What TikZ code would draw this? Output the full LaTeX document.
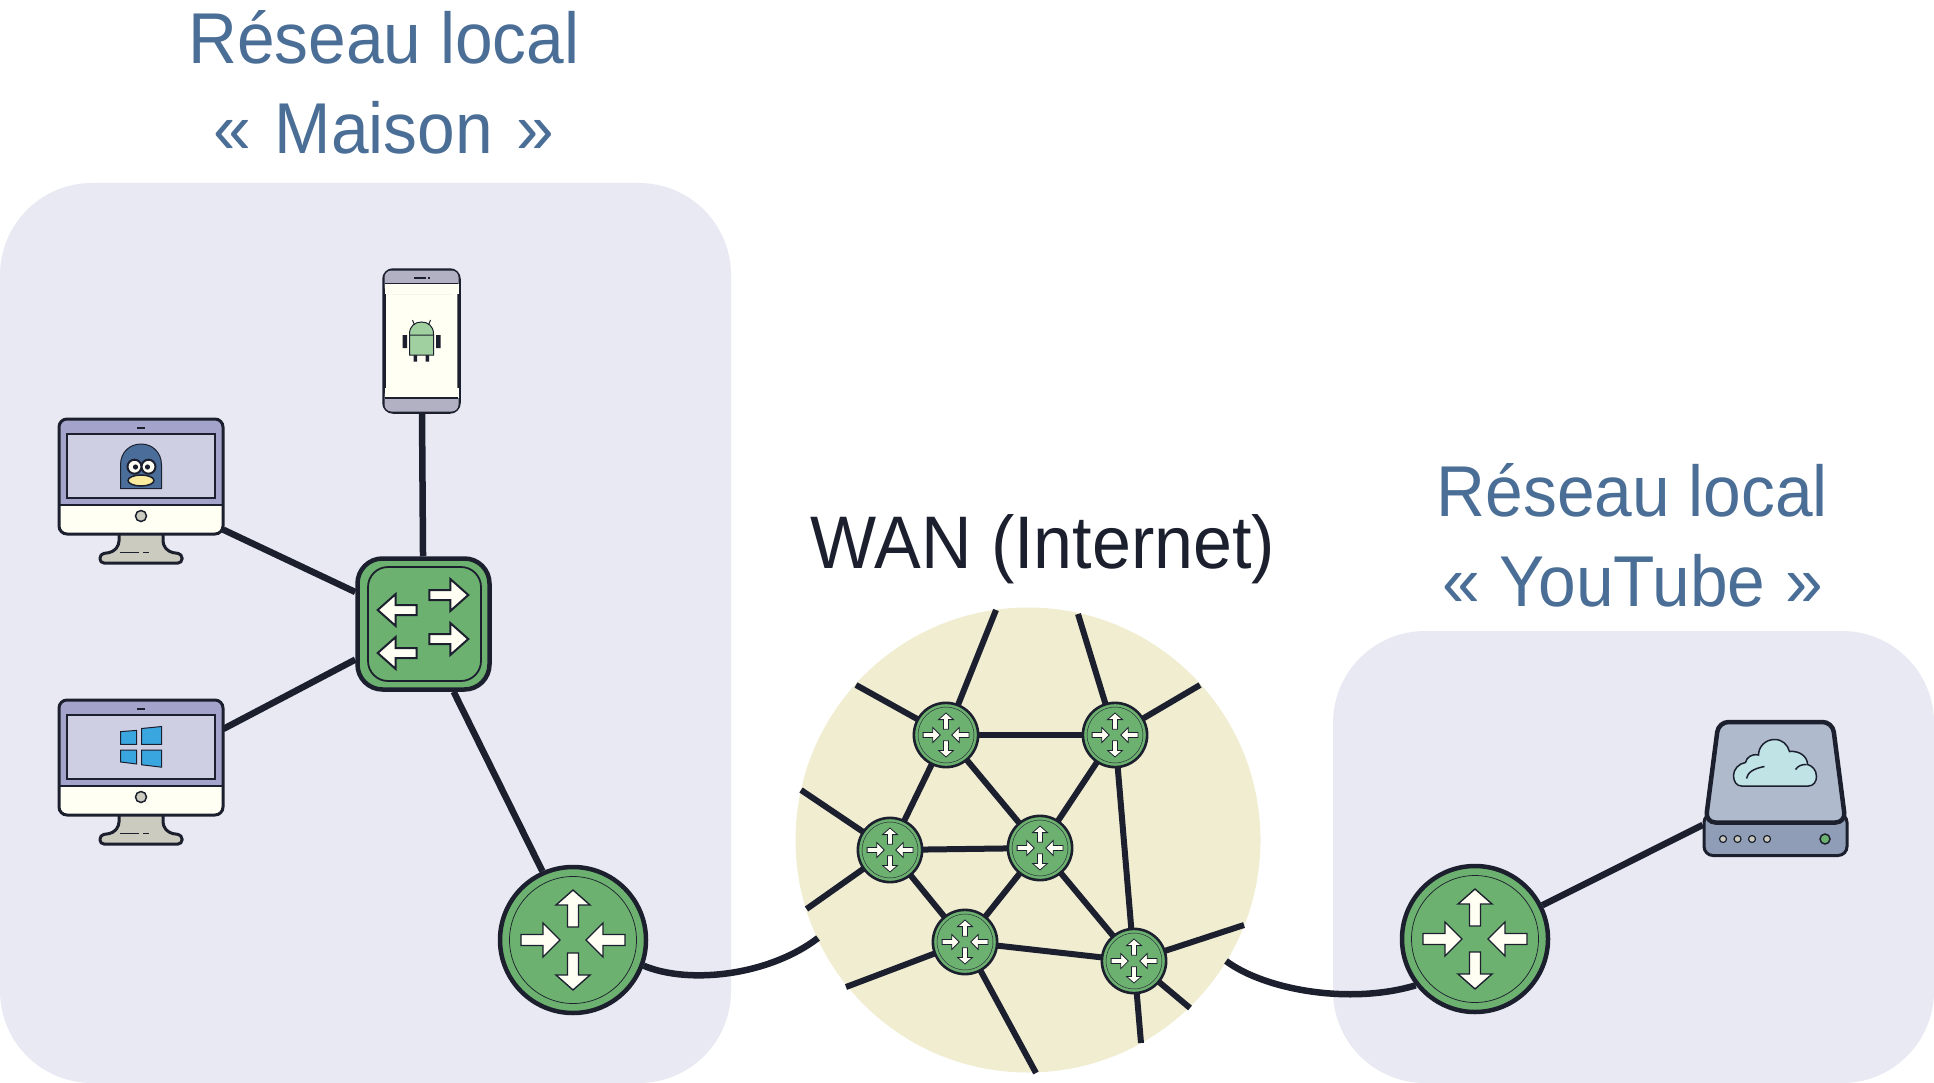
\documentclass[tikz,border=0pt]{standalone}
\usepackage{fontspec}
\setmainfont{Liberation Sans}[FakeStretch=0.94]
\definecolor{ink}{HTML}{1C202E}
\definecolor{groupbg}{HTML}{E8E9F2}
\definecolor{wanbg}{HTML}{F0EDD1}
\definecolor{titleblue}{HTML}{4A6E96}
\definecolor{netgreen}{HTML}{6DB170}
\definecolor{ivory}{HTML}{FFFFF3}
\definecolor{framecol}{HTML}{A4A3CB}
\definecolor{screencol}{HTML}{CFCFE3}
\definecolor{standcol}{HTML}{CBCBBF}
\definecolor{phonecol}{HTML}{B2B1C3}
\definecolor{servertop}{HTML}{AFBACC}
\definecolor{serverbase}{HTML}{8F9EB6}
\definecolor{cloudcol}{HTML}{C0E3E6}
\definecolor{tuxcol}{HTML}{4A6E99}
\definecolor{beakcol}{HTML}{FBEB9E}
\definecolor{wincol}{HTML}{3AA6E0}
\definecolor{droidcol}{HTML}{A0D0A0}
\newcommand{\arrowout}{(0,-50) -- (17,-35) -- (5.5,-35) -- (5.5,-13) -- (-5.5,-13) -- (-5.5,-35) -- (-17,-35) -- cycle}
\newcommand{\arrowin}{(0,-13) -- (17,-30) -- (5.5,-30) -- (5.5,-52) -- (-5.5,-52) -- (-5.5,-30) -- (-17,-30) -- cycle}
\newcommand{\arrowright}{(39,0) -- (21,-16) -- (21,-5) -- (0,-5) -- (0,5) -- (21,5) -- (21,16) -- cycle}
\tikzset{
    link/.style={draw=ink, line width=6.5pt},
    wanlink/.style={draw=ink, line width=6pt},
    grouptitle/.style={text=titleblue, align=center, font=\fontsize{72}{90}\selectfont},
    arrowbox/.style={draw=ink, fill=ivory},
    router/.pic={
        \node[circle, draw=ink, fill=netgreen, minimum size=146pt, inner sep=0pt, transform shape] (-box) {};
        \draw[draw=ink, line width=.4\pgflinewidth] (0,0) circle (63.5);
        \draw[arrowbox, line width=.55\pgflinewidth] \arrowout;
        \draw[arrowbox, line width=.55\pgflinewidth, rotate=180] \arrowout;
        \draw[arrowbox, line width=.55\pgflinewidth, rotate=90] \arrowin;
        \draw[arrowbox, line width=.55\pgflinewidth, rotate=-90] \arrowin;
    },
    monitor/.pic={
        \node[minimum width=164pt, minimum height=144pt, inner sep=0pt] (-box) {};
        \draw[ink, line width=3pt, fill=standcol, rounded corners=4pt] (-22,40) -- (-22,54) -- (-28,61) -- (-41,63) -- (-41,72) -- (41,72) -- (41,63) -- (28,61) -- (22,54) -- (22,40) -- cycle;
        \draw[ink, line width=1.5pt] (-21,61.5) -- (-2,61.5) (2.3,61.5) -- (8,61.5);
        \fill[ivory, rounded corners=8pt] (-82,-72) rectangle (82,43);
        \fill[framecol, rounded corners=8pt] (-82,14) -- (-82,-72) -- (82,-72) -- (82,14) -- cycle;
        \fill[framecol] (-82,5) rectangle (82,14);
        \draw[ink, line width=1.8pt, fill=screencol] (-74,-57) rectangle (74,7);
        \draw[ink, line width=1.8pt] (-82,14) -- (82,14);
        \draw[ink, line width=1.8pt] (-4,-63) -- (4,-63);
        \draw[ink, line width=1.5pt, fill=standcol] (0,25) circle (5.5);
        \draw[ink, line width=3pt, rounded corners=8pt] (-82,-72) rectangle (82,43);
    },
}
\begin{document}
\begin{tikzpicture}[x=1pt, y=-1pt]
    \useasboundingbox (0,0) rectangle (1934,1083);
    % areas
    \fill[groupbg, rounded corners=92pt] (0,183) rectangle (731,1083);
    \fill[groupbg, rounded corners=92pt] (1333,631) rectangle (1934,1083);
    \node[circle, fill=wanbg, minimum size=465pt, inner sep=0pt] (wan) at (1028,840) {};
    % titles
    \node[grouptitle] (titlehome) at (384,82.5) {Réseau local\\«\hspace{5pt} Maison \hspace{5pt}»};
    \node[grouptitle] (titleyoutube) at (1632.5,535.5) {Réseau local\\«\hspace{1pt} YouTube \hspace{1pt}»};
    \node[text=ink, font=\fontsize{74.5}{90}\selectfont, anchor=base] (titlewan) at (1043,568.5) {WAN (Internet)};
    % machines
    \pic (pclinux) at (141,491) {monitor};
    \pic (pcwindows) at (141,772) {monitor};
    % tux
    \draw[ink, line width=1pt, fill=tuxcol] (120.5,488.5) -- (120.5,465) .. controls (120.5,452) and (130,444) .. (141,444) .. controls (152,444) and (161.5,452) .. (161.5,465) -- (161.5,488.5) -- cycle;
    \draw[ink, line width=2pt, fill=ivory] (134.5,466.7) circle (7) (148.5,466.7) circle (7);
    \fill[ink] (135.5,467) circle (2.6) (147.5,467) circle (2.6);
    \draw[ink, line width=1.5pt, fill=beakcol] (141,480.5) ellipse (13 and 5.5);
    % windows
    \fill[wincol] (120.7,731.6) -- (136.7,730.4) -- (136.7,744.3) -- (120.7,744.3) -- cycle;
    \fill[wincol] (141.7,728.5) -- (161.7,726.5) -- (161.7,744.3) -- (141.7,744.3) -- cycle;
    \fill[wincol] (120.7,750) -- (136.7,750) -- (136.7,764) -- (120.7,762) -- cycle;
    \fill[wincol] (141.7,750) -- (161.7,750) -- (161.7,767.2) -- (141.7,764.8) -- cycle;
    \draw[ink, line width=1pt] (120.7,731.6) -- (136.7,730.4) -- (136.7,744.3) -- (120.7,744.3) -- cycle;
    \draw[ink, line width=1pt] (141.7,728.5) -- (161.7,726.5) -- (161.7,744.3) -- (141.7,744.3) -- cycle;
    \draw[ink, line width=1pt] (120.7,750) -- (136.7,750) -- (136.7,764) -- (120.7,762) -- cycle;
    \draw[ink, line width=1pt] (141.7,750) -- (161.7,750) -- (161.7,767.2) -- (141.7,764.8) -- cycle;
    % phone
    \node[draw=ink, line width=3.5pt, fill=ivory, rounded corners=9pt, minimum width=75pt, minimum height=142pt, inner sep=0pt] (phone) at (421.5,341) {};
    \fill[phonecol, rounded corners=7pt] (384.5,270.5) -- (458.5,270.5) -- (458.5,294) -- (384.5,294) -- cycle;
    \fill[ivory] (384.5,283.5) rectangle (458.5,294);
    \fill[phonecol, rounded corners=7pt] (384.5,388) -- (458.5,388) -- (458.5,411.5) -- (384.5,411.5) -- cycle;
    \fill[ivory] (384.5,388) rectangle (458.5,398);
    \draw[ink, line width=1.8pt] (385,283.5) -- (458,283.5) (385,398) -- (458,398);
    \draw[ink, line width=1.8pt] (414,277.7) -- (426,277.7) (428,277.7) -- (430,277.7);
    % android
    \fill[ink] (402.5,335) rectangle (407,348) (436,335) rectangle (440.5,348);
    \fill[ink] (413.5,354) rectangle (417,361.5) (425.5,354) rectangle (429,361.5);
    \draw[ink, line width=1pt, fill=droidcol] (409.5,334) .. controls (409.5,326) and (415,322) .. (421.5,322) .. controls (428,322) and (433.5,326) .. (433.5,334) -- (433.5,355) -- (409.5,355) -- cycle;
    \draw[ink, line width=1pt] (409.5,335) -- (433.5,335) (414.5,325) -- (412.5,320) (428.5,325) -- (430.5,320);
    % server
    \node[minimum width=145pt, minimum height=137pt, inner sep=0pt] (server) at (1775.5,788.5) {};
    \begin{scope}[shift={(server.center)}]
        \draw[ink, line width=3pt, fill=serverbase, rounded corners=9pt] (-71.5,25) rectangle (71.5,67);
        \draw[ink, line width=4.5pt, fill=servertop, rounded corners=10pt] (-57,-66.5) -- (57,-66.5) -- (70,34) -- (-70,34) -- cycle;
        \draw[ink, line width=1.5pt, fill=cloudcol] (-34,-2.5) -- (33,-2.5) .. controls (38,-2.5) and (41,-7) .. (41,-12) .. controls (41,-19) and (36,-23) .. (32,-24) .. controls (32,-32) and (24,-38) .. (14,-37) .. controls (12,-44) and (7,-49) .. (-1,-49) .. controls (-10,-49) and (-17,-42) .. (-17,-33.5) .. controls (-24,-35) and (-29,-31) .. (-30,-26) .. controls (-37,-25) and (-42,-19) .. (-42,-13) .. controls (-42,-7) and (-39,-2.5) .. (-34,-2.5) -- cycle;
        \draw[ink, line width=1.5pt] (-29,-10) .. controls (-28,-16) and (-22,-20) .. (-11,-22);
        \draw[ink, line width=1.5pt] (20,-19) .. controls (23,-23) and (26,-24) .. (31,-24);
        \draw[ink, line width=1.2pt, fill=standcol] (-52.5,50.5) circle (3.5) (-38,50.5) circle (3.5) (-23.5,50.5) circle (3.5) (-8.5,50.5) circle (3.5);
        \draw[ink, line width=1.5pt, fill=netgreen] (49.5,50.5) circle (5);
    \end{scope}
    % switch
    \node[draw=ink, line width=4.5pt, fill=netgreen, rounded corners=25pt, minimum width=132pt, minimum height=131pt, inner sep=0pt] (switch) at (423.5,624) {};
    \draw[ink, line width=1.8pt, rounded corners=20pt] (368,567) rectangle (481,681);
    \draw[arrowbox, line width=2pt, shift={(429.3,595)}] \arrowright;
    \draw[arrowbox, line width=2pt, shift={(429.3,639)}] \arrowright;
    \draw[arrowbox, line width=2pt, shift={(416.7,610)}, xscale=-1] \arrowright;
    \draw[arrowbox, line width=2pt, shift={(416.7,653)}, xscale=-1] \arrowright;
    % routers
    \pic[line width=4.5pt] (routerhome) at (573,940) {router};
    \pic[line width=4.5pt] (routeryoutube) at (1475,939) {router};
    \pic[scale=.44, line width=2.6pt] (routera) at (946,735) {router};
    \pic[scale=.44, line width=2.6pt] (routerb) at (1115,735) {router};
    \pic[scale=.44, line width=2.6pt] (routerc) at (890,850) {router};
    \pic[scale=.44, line width=2.6pt] (routerd) at (1040,848) {router};
    \pic[scale=.44, line width=2.6pt] (routere) at (965,942) {router};
    \pic[scale=.44, line width=2.6pt] (routerf) at (1134,961) {router};
    % free ends
    \coordinate (wanleft) at (818,938);
    \coordinate (wanright) at (1226,961);
    \coordinate (stuba) at (996,610);
    \coordinate (stubb) at (856,685);
    \coordinate (stubc) at (1078,614);
    \coordinate (stubd) at (1200,685);
    \coordinate (stube) at (801,790);
    \coordinate (stubf) at (806.5,909);
    \coordinate (stubg) at (846,987);
    \coordinate (stubh) at (1036,1073);
    \coordinate (stubi) at (1244,925);
    \coordinate (stubj) at (1190,1008);
    \coordinate (stubk) at (1141,1043);
    % home links
    \draw[link] (phone) -- (switch);
    \draw[link] (pclinux-box) -- (switch);
    \draw[link] (pcwindows-box) -- (switch);
    \draw[link] (switch.-66) -- (routerhome-box.114);
    \draw[link] (routerhome-box.-20) .. controls (690,985) and (770,975) .. (wanleft);
    \draw[link] (wanright) .. controls (1265,990) and (1350,1005) .. (routeryoutube-box.218);
    \draw[link] (routeryoutube-box) -- (server);
    % wan links
    \draw[wanlink] (routera-box) -- (routerb-box);
    \draw[wanlink] (routera-box) -- (routerc-box);
    \draw[wanlink] (routera-box) -- (routerd-box);
    \draw[wanlink] (routerb-box) -- (routerd-box);
    \draw[wanlink] (routerb-box) -- (routerf-box);
    \draw[wanlink] (routerc-box) -- (routerd-box);
    \draw[wanlink] (routerc-box) -- (routere-box);
    \draw[wanlink] (routerd-box) -- (routere-box);
    \draw[wanlink] (routerd-box) -- (routerf-box);
    \draw[wanlink] (routere-box) -- (routerf-box);
    \draw[wanlink] (routera-box) -- (stuba);
    \draw[wanlink] (routera-box) -- (stubb);
    \draw[wanlink] (routerb-box) -- (stubc);
    \draw[wanlink] (routerb-box) -- (stubd);
    \draw[wanlink] (routerc-box) -- (stube);
    \draw[wanlink] (routerc-box) -- (stubf);
    \draw[wanlink] (routere-box) -- (stubg);
    \draw[wanlink] (routere-box) -- (stubh);
    \draw[wanlink] (routerf-box) -- (stubi);
    \draw[wanlink] (routerf-box) -- (stubj);
    \draw[wanlink] (routerf-box) -- (stubk);
\end{tikzpicture}
\end{document}
